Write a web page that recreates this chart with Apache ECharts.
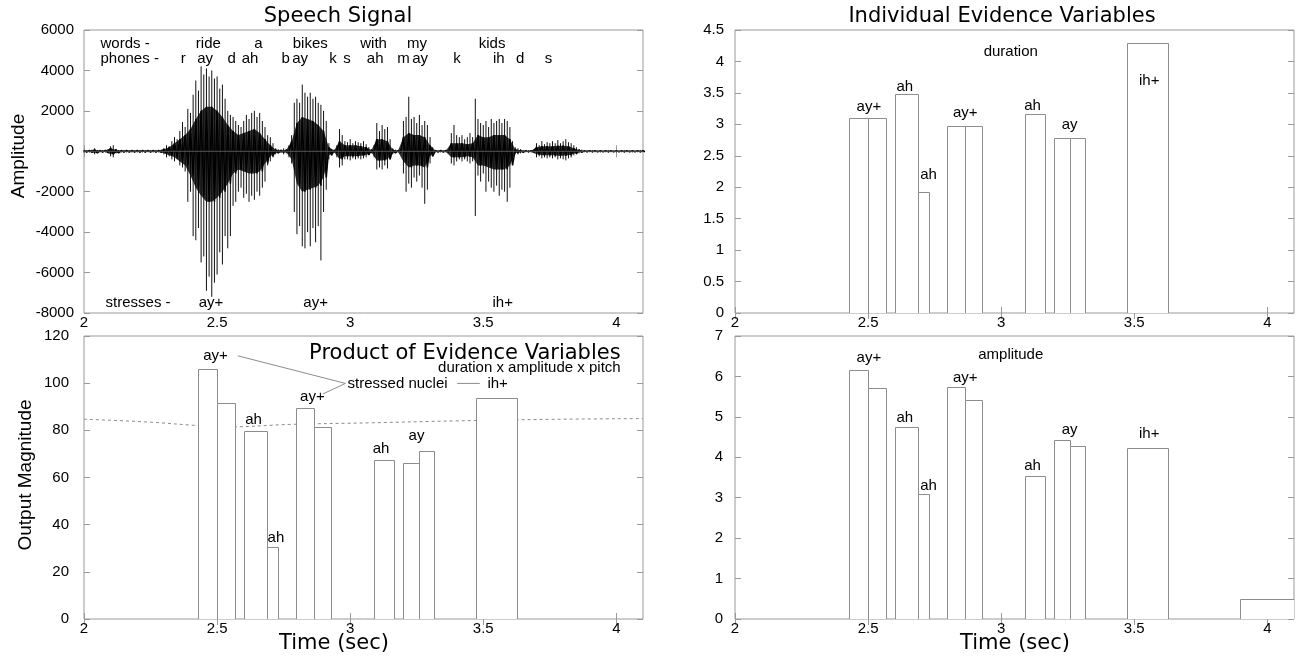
<!DOCTYPE html>
<html><head><meta charset="utf-8">
<script src="https://cdn.jsdelivr.net/npm/echarts@6/dist/echarts.min.js"></script>
<style>html,body{margin:0;padding:0;background:#fff}#c{width:1297px;height:656px}</style>
</head><body><div id="c"></div>
<script>
// ---------- tick labels ----------
const timeTicks = [2, 2.5, 3, 3.5, 4];
const speechYTicks = [-8000, -6000, -4000, -2000, 0, 2000, 4000, 6000];
const durationYTicks = [0, 0.5, 1, 1.5, 2, 2.5, 3, 3.5, 4, 4.5];
const productYTicks = [0, 20, 40, 60, 80, 100, 120];
const amplitudeYTicks = [0, 1, 2, 3, 4, 5, 6, 7];

// ---------- speech waveform (peak envelope, one value per 10 ms from 2.00 s) ----------
const waveStart = 2.0, waveStep = 0.01;
const wavePeakHi = [
60,60,60,80,150,60,60,60,60,100,
250,300,120,60,60,70,60,50,60,60,
60,70,60,60,50,60,60,70,60,80,
150,300,250,500,700,600,1000,1450,1200,2100,
1900,2800,3500,3000,4200,3800,4100,3700,4000,3600,
3700,3100,3300,2600,2000,1800,1700,1500,1300,1200,
1500,1800,1600,1900,2000,1700,1900,1500,1200,800,
700,400,150,100,80,150,100,300,800,2400,
2600,2400,3300,2900,2700,2900,2600,2700,2400,2300,
2000,1500,400,100,80,300,1100,800,500,450,
600,400,500,450,400,500,350,200,100,300,
1400,1000,1300,1100,1200,600,150,80,60,100,
1500,1700,2700,1600,1700,1400,1800,1300,1500,1300,
700,200,60,50,60,50,60,50,900,1300,
800,700,800,600,700,900,700,2600,1600,1400,
1300,1500,1200,1600,1400,1500,1600,1400,1600,1500,
1200,500,200,150,100,60,50,60,60,100,
400,300,500,350,450,400,500,400,550,400,
500,600,450,400,300,200,120,80,50,60,
50,60,50,50,60,50,50,60,50,50,
60,50,50,60,50,50,60,50,50,60,50];
const wavePeakLo = [
-60,-60,-60,-80,-150,-60,-60,-60,-60,-100,
-250,-300,-100,-60,-60,-70,-60,-50,-60,-60,
-60,-70,-60,-60,-50,-60,-60,-70,-60,-80,
-150,-300,-250,-400,-500,-400,-700,-800,-1000,-2500,
-2000,-4200,-4400,-3800,-5500,-5200,-6900,-6200,-7200,-6500,
-6100,-5000,-5600,-4200,-4800,-4200,-2700,-2500,-2000,-1800,
-2300,-2100,-2500,-2200,-2400,-2000,-2200,-1800,-1500,-700,
-500,-300,-150,-100,-80,-150,-100,-300,-600,-3000,
-4100,-3700,-4700,-4800,-4000,-4700,-3800,-4500,-3700,-5400,
-3000,-1900,-400,-100,-80,-300,-800,-700,-400,-400,
-450,-350,-400,-350,-400,-350,-300,-150,-100,-300,
-900,-800,-900,-700,-850,-400,-150,-80,-60,-100,
-1100,-2000,-1600,-1800,-1300,-1500,-1200,-1800,-2600,-1900,
-600,-200,-60,-50,-60,-50,-60,-50,-600,-700,
-500,-400,-500,-400,-500,-600,-500,-3200,-1200,-1500,
-1100,-2000,-1500,-1800,-2000,-1700,-2200,-1900,-2000,-2500,
-1800,-400,-150,-150,-100,-60,-50,-60,-60,-60,
-300,-250,-350,-300,-350,-300,-350,-300,-400,-350,
-400,-450,-350,-300,-200,-150,-100,-60,-50,-60,
-50,-60,-50,-50,-60,-50,-50,-60,-50,-50,
-60,-50,-50,-60,-50,-50,-60,-50,-50,-60,-50];
// dense core of the waveform, one value per 20 ms from 2.00 s
const coreStep = 0.02;
const waveCoreHi = [
40,40,80,40,40,150,80,40,40,40,
40,40,40,40,40,100,200,400,600,800,
1100,1600,2000,2200,2200,2000,1700,1300,1000,800,
900,1000,1100,900,600,300,80,50,60,500,
1400,1700,1600,1500,1300,1000,200,50,500,300,
300,300,250,200,60,600,600,500,80,40,
700,900,800,800,700,300,40,40,40,400,
400,400,350,400,800,700,700,800,800,800,
600,100,50,30,30,200,250,250,250,280,
280,250,150,60,30,30,30,30,30,30,
30,30,30,30,30,30];
const waveCoreLo = [
-40,-40,-80,-40,-40,-150,-80,-40,-40,-40,
-40,-40,-40,-40,-40,-100,-200,-300,-500,-700,
-1200,-1800,-2200,-2500,-2500,-2300,-2000,-1600,-1100,-900,
-1000,-1100,-1100,-1000,-600,-250,-80,-50,-60,-400,
-1600,-2000,-1900,-1800,-1700,-1300,-200,-50,-400,-250,
-250,-250,-220,-180,-60,-450,-450,-400,-80,-40,
-500,-800,-700,-700,-800,-250,-40,-40,-40,-300,
-300,-300,-250,-300,-700,-700,-800,-900,-900,-900,
-700,-80,-50,-30,-30,-150,-200,-200,-200,-220,
-220,-200,-120,-50,-30,-30,-30,-30,-30,-30,
-30,-30,-30,-30,-30,-30];

// ---------- words / phones / stresses ----------
const wordTexts = ['ride', 'a', 'bikes', 'with', 'my', 'kids'];
const wordTimes = [2.467, 2.655, 2.850, 3.088, 3.251, 3.533];
const phoneTexts = ['r', 'ay', 'd', 'ah', 'b', 'ay', 'k', 's', 'ah', 'm', 'ay', 'k', 'ih', 'd', 's'];
const phoneTimes = [2.373, 2.455, 2.555, 2.624, 2.758, 2.812, 2.935, 2.988, 3.094, 3.200, 3.263, 3.401, 3.558, 3.639, 3.745];
const stressTexts = ['ay+', 'ay+', 'ih+'];
const stressTimes = [2.477, 2.870, 3.573];

// ---------- phone segments and evidence variables ----------
const segStart = [2.427, 2.498, 2.600, 2.689, 2.797, 2.863, 3.089, 3.199, 3.257, 3.472];
const segEnd   = [2.498, 2.568, 2.689, 2.727, 2.863, 2.929, 3.163, 3.257, 3.315, 3.625];
const durationVals  = [3.10, 3.10, 3.48, 1.92, 2.98, 2.98, 3.17, 2.79, 2.79, 4.30];
const amplitudeVals = [6.16, 5.72, 4.76, 3.08, 5.75, 5.42, 3.53, 4.42, 4.28, 4.22];
const productVals   = [106.1, 91.6, 79.7, 30.6, 89.6, 81.5, 67.4, 66.2, 71.3, 93.8];
const amplitudeTailStart = [3.896];
const amplitudeTailEnd = [4.1];
const amplitudeTailVals = [0.50];

// threshold (dashed) in product panel
const thresholdTimes = [2.0, 2.228, 2.46, 2.555, 2.772, 3.083, 3.394, 3.705, 4.1];
const thresholdVals  = [84.7, 83.6, 81.8, 81.5, 82.5, 83.2, 84.0, 84.6, 85.0];

// annotation labels
const durLabelTexts = ['ay+', 'ah', 'ah', 'ay+', 'ah', 'ay', 'ih+', 'duration'];
const durLabelT = [2.503, 2.638, 2.727, 2.865, 3.118, 3.257, 3.556, 3.036];
const durLabelV = [3.28, 3.60, 2.19, 3.18, 3.29, 2.99, 3.69, 4.15];
const ampLabelTexts = ['ay+', 'amplitude', 'ay+', 'ah', 'ah', 'ah', 'ay', 'ih+'];
const ampLabelT = [2.503, 3.036, 2.865, 2.638, 2.727, 3.118, 3.257, 3.556];
const ampLabelV = [6.47, 6.54, 5.97, 4.98, 3.29, 3.78, 4.67, 4.58];
const prodLabelTexts = ['ay+', 'ay+', 'ah', 'ah', 'ah', 'ay', 'ih+'];
const prodLabelT = [2.494, 2.858, 2.637, 2.721, 3.116, 3.249, 3.554];
const prodLabelV = [111.6, 94.2, 84.6, 34.5, 72.3, 77.8, 99.9];

// ---------- layout ----------
const FONT = 'Liberation Sans, Arial, sans-serif';
const TFONT = 'DejaVu Sans, Verdana, sans-serif';
const FRAME = '#9a9a9a';
const grids = [
  {left: 84, top: 30, width: 559, height: 283},
  {left: 735, top: 30, width: 559, height: 283},
  {left: 84, top: 336, width: 559, height: 283},
  {left: 735, top: 336, width: 559, height: 283}
];
const yTicksList = [speechYTicks, durationYTicks, productYTicks, amplitudeYTicks];
const yMargins = [10, 11, 15, 12];

const xAxis = [], yAxis = [];
grids.forEach((g, i) => {
  const yt = yTicksList[i];
  const common = {type: 'value', min: 2, max: 4.1, gridIndex: i,
    axisLine: {show: false}, splitLine: {show: false}};
  xAxis.push(Object.assign({}, common, {position: 'bottom',
    axisTick: {inside: true, length: 6, lineStyle: {color: FRAME}, customValues: timeTicks},
    axisLabel: {customValues: timeTicks, color: '#000', fontSize: 15, fontFamily: FONT, margin: 2,
      formatter: v => String(v)}}));
  xAxis.push(Object.assign({}, common, {position: 'top',
    axisTick: {inside: true, length: 6, lineStyle: {color: FRAME}, customValues: timeTicks},
    axisLabel: {show: false}}));
  const yc = {type: 'value', min: yt[0], max: yt[yt.length - 1], interval: yt[1] - yt[0], gridIndex: i,
    axisLine: {show: false}, splitLine: {show: false}};
  yAxis.push(Object.assign({}, yc, {position: 'left',
    axisTick: {inside: true, length: 6, lineStyle: {color: FRAME}},
    axisLabel: {color: '#000', fontSize: 15, fontFamily: FONT, margin: yMargins[i],
      formatter: v => String(v)}}));
  yAxis.push(Object.assign({}, yc, {position: 'right',
    axisTick: {inside: true, length: 6, lineStyle: {color: FRAME}},
    axisLabel: {show: false}}));
});

function textSeries(gi, ts, vs, texts, opts) {
  opts = opts || {};
  return {
    type: 'custom', xAxisIndex: gi * 2, yAxisIndex: gi * 2, z: 10, silent: true,
    data: ts.map((t, k) => [t, vs[k]]),
    encode: {x: 0, y: 1},
    renderItem: (params, api) => {
      const p = api.coord([api.value(0), api.value(1)]);
      return {type: 'text', x: p[0], y: p[1], style: {
        text: texts[params.dataIndex], fill: '#000',
        font: (opts.size || 15) + 'px ' + (opts.family || FONT),
        textAlign: opts.align || 'center', textVerticalAlign: 'middle'}};
    }
  };
}

function barSeries(gi, starts, ends, vals) {
  return {
    type: 'custom', xAxisIndex: gi * 2, yAxisIndex: gi * 2, silent: true, clip: true,
    data: starts.map((s, k) => [s, ends[k], vals[k]]),
    encode: {x: [0, 1], y: 2},
    renderItem: (params, api) => {
      const a = api.coord([api.value(0), 0]);
      const b = api.coord([api.value(1), api.value(2)]);
      const x0 = Math.round(a[0]) + 0.5, x1 = Math.round(b[0]) + 0.5;
      const y0 = Math.round(a[1]) + 0.5, y1 = Math.round(b[1]) + 0.5;
      return {type: 'rect', shape: {x: x0, y: y1, width: x1 - x0, height: y0 - y1},
        style: {fill: '#fff', stroke: '#8c8c8c', lineWidth: 1}};
    }
  };
}

// zig-zag path through the core envelope: hi at t, lo half a step later
const coreZig = [];
waveCoreHi.forEach((v, k) => {
  const t = waveStart + k * coreStep;
  coreZig.push([t, v]);
  coreZig.push([t + coreStep / 2, waveCoreLo[k]]);
});

const series = [];
// --- speech waveform ---
[waveCoreHi, waveCoreLo].forEach(arr => series.push({
  type: 'line', xAxisIndex: 0, yAxisIndex: 0, showSymbol: false, silent: true,
  data: arr.map((v, k) => [waveStart + k * coreStep, v]),
  lineStyle: {width: 0}, areaStyle: {color: '#000', opacity: 0.8, origin: 0}
}));
series.push({
  type: 'line', xAxisIndex: 0, yAxisIndex: 0, showSymbol: false, silent: true,
  data: coreZig, lineStyle: {color: '#000', width: 1.5}
});
series.push({
  type: 'custom', xAxisIndex: 0, yAxisIndex: 0, silent: true,
  data: wavePeakHi.map((v, k) => [waveStart + k * waveStep, wavePeakLo[k], v]),
  encode: {x: 0, y: [1, 2]},
  renderItem: (params, api) => {
    const a = api.coord([api.value(0), api.value(1)]);
    const b = api.coord([api.value(0), api.value(2)]);
    return {type: 'line', shape: {x1: a[0], y1: a[1], x2: b[0], y2: b[1]},
      style: {stroke: '#111', lineWidth: 1}};
  }
});
series.push({
  type: 'line', xAxisIndex: 0, yAxisIndex: 0, showSymbol: false, silent: true,
  data: [[2, 0], [4.1, 0]], lineStyle: {color: '#555', width: 1}
});
series.push(textSeries(0, [2.062], [5322], ['words -'], {align: 'left'}));
series.push(textSeries(0, [2.062], [4581], ['phones -'], {align: 'left'}));
series.push(textSeries(0, [2.081], [-7510], ['stresses -'], {align: 'left'}));
series.push(textSeries(0, wordTimes, wordTimes.map(() => 5322), wordTexts));
series.push(textSeries(0, phoneTimes, phoneTimes.map(() => 4581), phoneTexts));
series.push(textSeries(0, stressTimes, stressTimes.map(() => -7510), stressTexts));

// --- duration ---
series.push(barSeries(1, segStart, segEnd, durationVals));
series.push(textSeries(1, durLabelT, durLabelV, durLabelTexts));

// --- product ---
series.push({
  type: 'line', xAxisIndex: 4, yAxisIndex: 4, showSymbol: false, silent: true, smooth: 0.4,
  data: thresholdTimes.map((t, k) => [t, thresholdVals[k]]),
  lineStyle: {color: '#8c8c8c', width: 1, type: [3, 3]}, z: 1
});
series.push(barSeries(2, segStart, segEnd, productVals));
series.push(textSeries(2, prodLabelT, prodLabelV, prodLabelTexts));
series.push(textSeries(2, [2.99], [99.9], ['stressed nuclei'], {align: 'left'}));
series.push(textSeries(2, [4.016], [112.7], ['Product of Evidence Variables'], {align: 'right', size: 21, family: TFONT}));
series.push(textSeries(2, [4.016], [106.7], ['duration x amplitude x pitch'], {align: 'right'}));
const calloutLines = [[2.578, 111.6, 2.982, 99.9], [2.897, 95.4, 2.982, 99.9], [3.402, 99.9, 3.487, 99.9]];
series.push({
  type: 'custom', xAxisIndex: 4, yAxisIndex: 4, silent: true,
  data: calloutLines,
  encode: {x: [0, 2], y: [1, 3]},
  renderItem: (params, api) => {
    const a = api.coord([api.value(0), api.value(1)]);
    const b = api.coord([api.value(2), api.value(3)]);
    return {type: 'line', shape: {x1: a[0], y1: a[1], x2: b[0], y2: b[1]},
      style: {stroke: '#8c8c8c', lineWidth: 1}};
  }
});

// --- amplitude ---
series.push(barSeries(3, segStart, segEnd, amplitudeVals));
series.push(barSeries(3, amplitudeTailStart, amplitudeTailEnd, amplitudeTailVals));
series.push(textSeries(3, ampLabelT, ampLabelV, ampLabelTexts));

const T = (text, font, x, y, rot) => ({type: 'text', x: x, y: y, rotation: rot || 0, silent: true,
  style: {text: text, font: font, fill: '#000', textAlign: 'center', textVerticalAlign: 'middle'}});

const option = {
  animation: false,
  backgroundColor: '#fff',
  grid: grids.map(g => Object.assign({show: true, borderColor: FRAME, borderWidth: 1, backgroundColor: 'transparent'}, g)),
  xAxis, yAxis, series,
  graphic: [
    T('Speech Signal', '21px ' + TFONT, 338, 17),
    T('Individual Evidence Variables', '21px ' + TFONT, 1002, 17),
    T('Time (sec)', '21px ' + TFONT, 334, 644),
    T('Time (sec)', '21px ' + TFONT, 1015, 644),
    T('Amplitude', '19px ' + FONT, 19, 156, Math.PI / 2),
    T('Output Magnitude', '19px ' + FONT, 26, 475, Math.PI / 2)
  ]
};
const chart = echarts.init(document.getElementById('c'));
chart.setOption(option);
</script></body></html>
